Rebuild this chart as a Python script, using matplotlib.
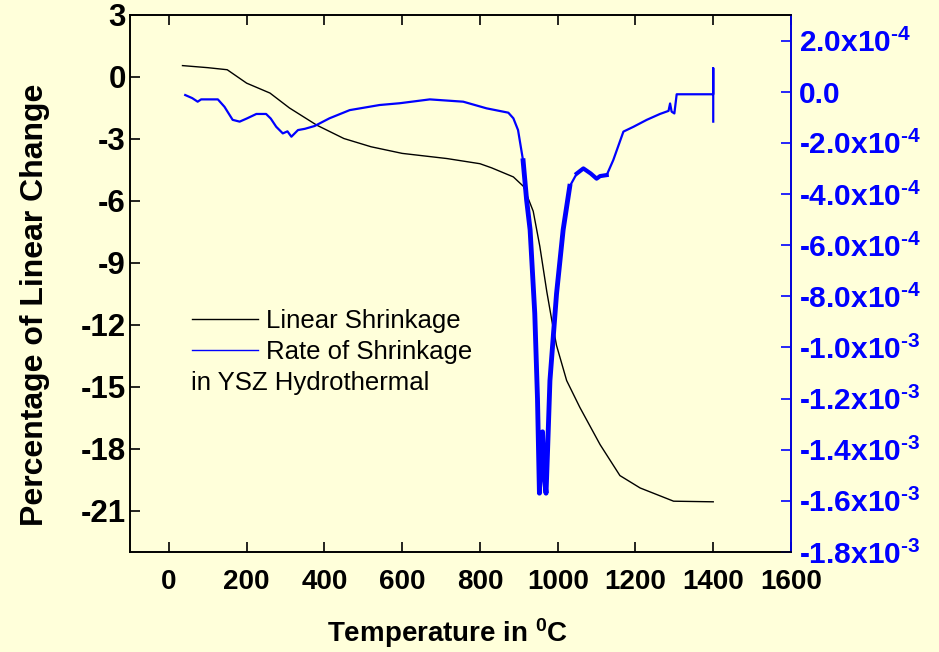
import matplotlib
matplotlib.use('Agg')
import matplotlib.pyplot as plt
from matplotlib.lines import Line2D

plt.rcParams['font.family'] = 'Liberation Sans'
plt.rcParams['font.weight'] = 'bold'
plt.rcParams['mathtext.fontset'] = 'custom'
plt.rcParams['mathtext.rm'] = 'Liberation Sans:bold'
plt.rcParams['mathtext.bf'] = 'Liberation Sans:bold'
plt.rcParams['mathtext.default'] = 'bf'

# Linear shrinkage (%), left axis
temp_lin = [35, 100, 150, 200, 260, 310, 380, 450, 520, 600, 715, 800, 830, 886,
            912, 937, 954, 972, 985, 997, 1023, 1057, 1109, 1160, 1212, 1298, 1400]
lin_change = [0.55, 0.45, 0.35, -0.3, -0.78, -1.5, -2.33, -2.98, -3.38, -3.7, -3.95,
              -4.2, -4.4, -4.84, -5.3, -6.5, -8.2, -10.4, -11.8, -13.0, -14.7, -16.0,
              -17.8, -19.3, -19.9, -20.54, -20.57]

# Rate of shrinkage, right axis
temp_rate = [42, 60, 74, 83, 126, 143, 164, 182, 200, 225, 250, 262, 276, 293, 305, 315,
             332, 350, 375, 413, 465, 542, 594, 671, 757, 817, 873, 886, 898, 911, 920,
             929, 941, 948, 953, 957, 961, 965, 970, 974, 980, 997, 1014, 1031, 1049,
             1066, 1085, 1100, 1109, 1126, 1143, 1169, 1195, 1229, 1263, 1285, 1289,
             1293, 1300, 1306, 1400, 1400, 1400]
rate = [-0.13e-4, -0.25e-4, -0.39e-4, -0.30e-4, -0.30e-4, -0.59e-4, -1.10e-4, -1.17e-4,
        -1.05e-4, -0.87e-4, -0.87e-4, -1.05e-4, -1.37e-4, -1.63e-4, -1.55e-4, -1.76e-4,
        -1.50e-4, -1.45e-4, -1.34e-4, -1.04e-4, -0.72e-4, -0.52e-4, -0.45e-4, -0.30e-4,
        -0.39e-4, -0.65e-4, -0.82e-4, -1.04e-4, -1.50e-4, -2.70e-4, -4.23e-4, -5.4e-4,
        -8.67e-4, -12.0e-4, -15.7e-4, -14.0e-4, -13.3e-4, -15.0e-4, -15.7e-4, -14.0e-4,
        -11.3e-4, -7.9e-4, -5.4e-4, -3.7e-4, -3.2e-4, -3.0e-4, -3.2e-4, -3.4e-4, -3.3e-4,
        -3.26e-4, -2.67e-4, -1.56e-4, -1.37e-4, -1.10e-4, -0.87e-4, -0.75e-4, -0.46e-4,
        -0.78e-4, -0.85e-4, -0.10e-4, -0.10e-4, 0.92e-4, -1.17e-4]

x_ticks = [0, 200, 400, 600, 800, 1000, 1200, 1400, 1600]
y_ticks = [3, 0, -3, -6, -9, -12, -15, -18, -21]
r_ticks = [2e-4, 0, -2e-4, -4e-4, -6e-4, -8e-4, -1.0e-3, -1.2e-3, -1.4e-3, -1.6e-3, -1.8e-3]
r_labels = ['2.0x10$^{\\text{-4}}$', '0.0', '-2.0x10$^{\\text{-4}}$', '-4.0x10$^{\\text{-4}}$',
            '-6.0x10$^{\\text{-4}}$', '-8.0x10$^{\\text{-4}}$', '-1.0x10$^{\\text{-3}}$',
            '-1.2x10$^{\\text{-3}}$', '-1.4x10$^{\\text{-3}}$', '-1.6x10$^{\\text{-3}}$',
            '-1.8x10$^{\\text{-3}}$']

bg = '#FFFFDA'
fig = plt.figure(figsize=(9.39, 6.52), dpi=100, facecolor=bg)
ax = fig.add_axes([130 / 939, 100 / 652, 661 / 939, 537 / 652])
ax.set_facecolor(bg)
ax2 = ax.twinx()

ax.plot(temp_lin, lin_change, color='black', lw=1.0)
ax2.plot(temp_rate, rate, color='blue', lw=1.6)
# noisy parts of the rate trace look thicker
i0, i1 = temp_rate.index(911), temp_rate.index(1031)
ax2.plot(temp_rate[i0:i1 + 1], rate[i0:i1 + 1], color='blue', lw=3.5)
j0, j1 = temp_rate.index(1049), temp_rate.index(1126)
ax2.plot(temp_rate[j0:j1 + 1], rate[j0:j1 + 1], color='blue', lw=3.0)

ax.set_xlim(-100, 1600)
ax.set_ylim(-23, 3)
ax2.set_ylim(-1.8e-3, 3e-4)

ax.set_xticks(x_ticks)
ax.set_xticklabels([str(t) for t in x_ticks])
ax.set_yticks(y_ticks)
ax.set_yticklabels([str(t) for t in y_ticks])
ax2.set_yticks(r_ticks)
ax2.set_yticklabels(r_labels)

ax.tick_params(direction='in', length=7.5, width=1.2, top=True)
ax.tick_params(axis='x', pad=12.5, labelsize=20)
ax.tick_params(axis='y', pad=3, labelsize=22.5)
ax2.tick_params(axis='y', direction='in', length=7.5, width=1.2, colors='blue',
                labelsize=21.5, pad=6)
for sp in ax.spines.values():
    sp.set_linewidth(1.2)
for sp in ax2.spines.values():
    sp.set_linewidth(1.2)
ax2.spines['right'].set_color('blue')

ax.set_xlabel('Temperature in $^{0}$C', fontsize=20, fontweight='bold', labelpad=15)
ax.xaxis.label.set_x(0.481)
ax.set_ylabel('Percentage of Linear Change', fontsize=23, fontweight='bold')
ax.yaxis.set_label_coords(-0.121, 0.46)

handles = [Line2D([], [], color='black', lw=1.0), Line2D([], [], color='blue', lw=1.0)]
ax2.legend(handles, ['Linear Shrinkage', 'Rate of Shrinkage'], loc='upper left',
           bbox_to_anchor=(0.094, 0.453), frameon=False,
           prop={'family': 'Liberation Sans', 'weight': 'normal', 'size': 18.5},
           handlelength=2.55, handletextpad=0.33, labelspacing=0.3,
           borderpad=0, borderaxespad=0)
ax2.text(0.093, 0.314, 'in YSZ Hydrothermal', transform=ax2.transAxes, fontsize=18.5,
         fontweight='normal', va='center', ha='left')

fig.savefig('out.png', dpi=100, facecolor=bg)
